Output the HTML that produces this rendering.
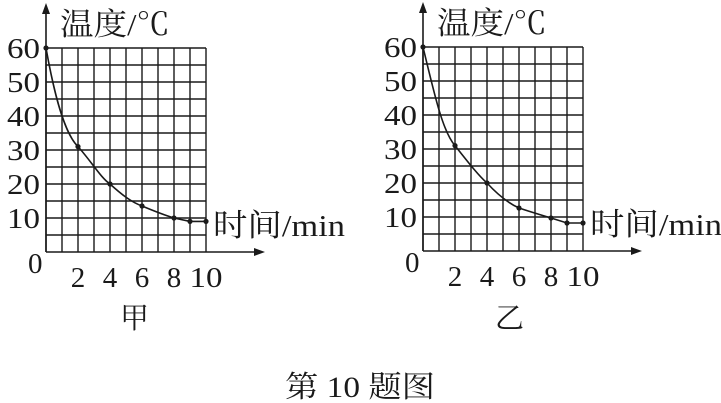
<!DOCTYPE html>
<html><head><meta charset="utf-8"><style>
html,body{margin:0;padding:0;background:#fff;}
svg{display:block}
text{font-family:"Liberation Serif","Noto Serif CJK SC",serif;fill:#1a1a1a}
.cj{font-family:"Liberation Serif","Noto Serif CJK SC","Noto Sans CJK SC",serif}
</style></head><body>
<svg width="721" height="403" viewBox="0 0 721 403" xmlns="http://www.w3.org/2000/svg">
<defs>
<g id="grid" stroke="#1a1a1a" stroke-width="1.4" fill="none">
  <path d="M0,0V204 M16,0V204 M32,0V204 M48,0V204 M64,0V204 M80,0V204 M96,0V204 M112,0V204 M128,0V204 M144,0V204 M160,0V204"/>
  <path d="M0,0H160 M0,17H160 M0,34H160 M0,51H160 M0,68H160 M0,85H160 M0,102H160 M0,119H160 M0,136H160 M0,153H160 M0,170H160 M0,187H160"/>
  <path d="M0,204H212 M0,204V-38" stroke-width="1.6"/>
  <path d="M219,204 l-11,-4 v8z M0,-45 l-4,11 h8z" fill="#1a1a1a" stroke="none"/>
</g>
<g id="labels" font-size="29">
  <g text-anchor="end">
    <text x="-6" y="10" textLength="33" lengthAdjust="spacingAndGlyphs">60</text><text x="-6" y="44" textLength="33" lengthAdjust="spacingAndGlyphs">50</text><text x="-6" y="78" textLength="33" lengthAdjust="spacingAndGlyphs">40</text>
    <text x="-6" y="112" textLength="33" lengthAdjust="spacingAndGlyphs">30</text><text x="-6" y="146" textLength="33" lengthAdjust="spacingAndGlyphs">20</text><text x="-6" y="180" textLength="33" lengthAdjust="spacingAndGlyphs">10</text>
  </g>
  <text x="-18" y="225">0</text>
  <g text-anchor="middle">
    <text x="32" y="239">2</text><text x="64" y="239">4</text><text x="96" y="239">6</text><text x="128" y="239">8</text><text x="160" y="239" textLength="33" lengthAdjust="spacingAndGlyphs">10</text>
  </g>
  <text class="cj" x="14" y="-13" font-size="31" textLength="110" lengthAdjust="spacingAndGlyphs">温度/℃</text>
  <text class="cj" x="167" y="188" font-size="31" textLength="132" lengthAdjust="spacingAndGlyphs">时间/min</text>
</g>
</defs>
<g transform="translate(46,48)">
  <use href="#grid"/><use href="#labels"/>
  <path d="M0,0 C8,45 18,85 32,98.6 C45,113 55,130 64,136 C75,146 85,154 96,158 C108,163 118,167 128,170 L144,173.4 L160,173.4" fill="none" stroke="#1a1a1a" stroke-width="1.6"/>
  <g fill="#1a1a1a"><circle cx="0" cy="0" r="2.6"/><circle cx="32" cy="98.6" r="2.6"/><circle cx="64" cy="136" r="2.6"/><circle cx="96" cy="158" r="2.6"/><circle cx="128" cy="170" r="2.6"/><circle cx="144" cy="173.4" r="2.6"/><circle cx="160" cy="173.4" r="2.6"/></g>
  <text class="cj" x="74" y="280" font-size="29">甲</text>
</g>
<g transform="translate(423,47)">
  <use href="#grid"/><use href="#labels"/>
  <path d="M0,0 C12,50 20,85 32,98.6 C45,115 55,128 64,136 C75,148 85,156 96,161 C108,165 118,168 128,171 L144,176 L160,176" fill="none" stroke="#1a1a1a" stroke-width="1.6"/>
  <g fill="#1a1a1a"><circle cx="0" cy="0" r="2.6"/><circle cx="32" cy="98.6" r="2.6"/><circle cx="64" cy="136" r="2.6"/><circle cx="96" cy="161" r="2.6"/><circle cx="128" cy="171" r="2.6"/><circle cx="144" cy="176" r="2.6"/><circle cx="160" cy="176" r="2.6"/></g>
  <text class="cj" x="72" y="281" font-size="29">乙</text>
</g>
<text class="cj" x="285" y="397" font-size="30" textLength="150" lengthAdjust="spacingAndGlyphs">第 10 题图</text>
</svg>
</body></html>
